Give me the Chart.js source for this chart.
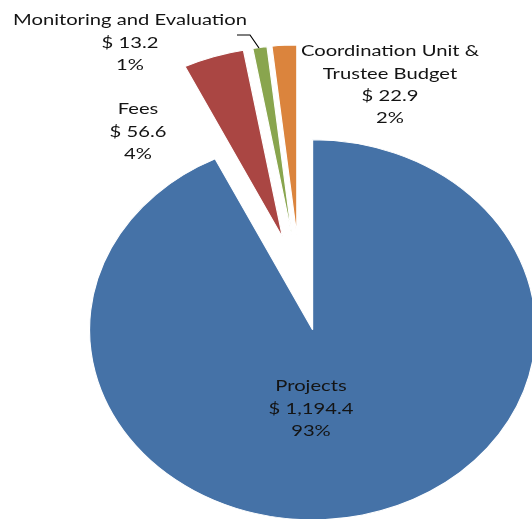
<!DOCTYPE html>
<html>
<head>
<meta charset="utf-8">
<script src="https://cdn.jsdelivr.net/npm/chart.js@4.4.1/dist/chart.umd.min.js"></script>
<style>
html,body{margin:0;padding:0;background:#fff;}
#wrap{width:532px;height:519px;overflow:hidden;}
</style>
</head>
<body>
<div id="wrap"><canvas id="c" width="532" height="519"></canvas></div>
<script>
// ---- data ----
const categories = ["Projects", "Fees", "Monitoring and Evaluation", "Coordination Unit & Trustee Budget"];
const values = [1194.4, 56.6, 13.2, 22.9];
const nameLines = [["Projects"], ["Fees"], ["Monitoring and Evaluation"], ["Coordination Unit &", "Trustee Budget"]];

// ---- style / layout ----
const colors = ["#4572A7", "#AA4643", "#89A54E", "#DB843D"];
const SX = 1.174;          // horizontal stretch of the original picture
const EXPLODE = 48;        // slice explosion distance
const labelAnchors = [[311, 386], [138, 109], [130, 20], [390, 51]]; // screen centre of first label line
const LINE_H = 22.4;
const leader = [[237, 35], [250, 35], [259, 48]];

const total = values.reduce((a, b) => a + b, 0);
function fmt(v) { return "$ " + v.toLocaleString("en-US", {minimumFractionDigits: 1, maximumFractionDigits: 1}); }

const explodePlugin = {
  id: "explode",
  beforeDatasetDraw(chart, args) {
    const ctx = chart.ctx;
    args.meta.data.forEach(el => {
      const half = (el.startAngle + el.endAngle) / 2;
      ctx.save();
      ctx.scale(SX, 1);
      ctx.translate(Math.cos(half) * EXPLODE, Math.sin(half) * EXPLODE);
      el.draw(ctx);
      ctx.restore();
    });
    return false;
  },
  afterDatasetsDraw(chart) {
    const ctx = chart.ctx;
    ctx.save();
    ctx.font = "16px Lato";
    ctx.fillStyle = "#141414";
    ctx.textAlign = "center";
    ctx.textBaseline = "middle";
    const tsx = 234 / ctx.measureText("Monitoring and Evaluation").width;
    categories.forEach((c, i) => {
      const lines = nameLines[i].concat([fmt(values[i]), Math.round(values[i] / total * 100) + "%"]);
      const [ax, ay] = labelAnchors[i];
      lines.forEach((t, j) => {
        ctx.save();
        ctx.translate(ax, ay + j * LINE_H);
        ctx.scale(tsx, 1);
        ctx.fillText(t, 0, 0);
        ctx.restore();
      });
    });
    ctx.strokeStyle = "#000";
    ctx.lineWidth = 1.2;
    ctx.beginPath();
    leader.forEach((p, i) => i ? ctx.lineTo(p[0], p[1]) : ctx.moveTo(p[0], p[1]));
    ctx.stroke();
    ctx.restore();
  }
};

new Chart(document.getElementById("c"), {
  type: "pie",
  data: {
    labels: categories,
    datasets: [{
      data: values,
      backgroundColor: colors,
      borderColor: "#ffffff",
      borderWidth: 1,
      offset: 0
    }]
  },
  options: {
    responsive: false,
    animation: false,
    radius: 190,
    rotation: 0,
    layout: {padding: {left: 0, right: 21, top: 47, bottom: 0}},
    plugins: {legend: {display: false}, tooltip: {enabled: false}, title: {display: false}}
  },
  plugins: [explodePlugin]
});
</script>
</body>
</html>
